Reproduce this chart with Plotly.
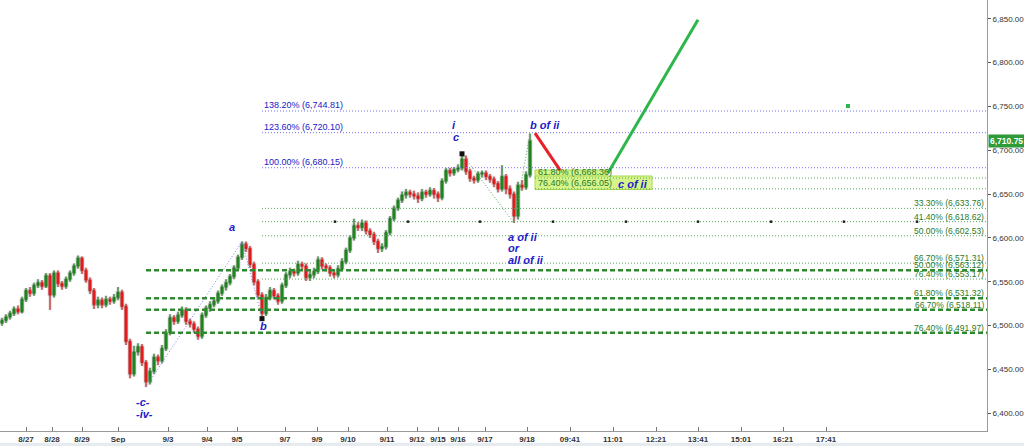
import plotly.graph_objects as go

# ---------------- data ----------------
first_open = 6503
closes = [6506, 6510, 6514, 6519, 6516, 6530, 6540, 6537, 6546, 6549,
          6545, 6557, 6535, 6560, 6548, 6545, 6553, 6560, 6568, 6577,
          6563, 6552, 6540, 6524, 6529, 6524, 6530, 6528, 6532, 6538,
          6522, 6482, 6445, 6470, 6476, 6458, 6436, 6448, 6464, 6460,
          6474, 6492, 6509, 6505, 6512, 6518, 6505, 6502, 6496, 6488,
          6512, 6520, 6524, 6528, 6537, 6544, 6549, 6556, 6566, 6578,
          6593, 6588, 6570, 6550, 6535, 6514, 6532, 6540, 6534, 6528,
          6546, 6558, 6562, 6560, 6570, 6568, 6555, 6558, 6562, 6575,
          6568, 6566, 6560, 6558, 6565, 6573, 6586, 6600, 6614, 6612,
          6617, 6608, 6604, 6596, 6588, 6590, 6606, 6622, 6634, 6643,
          6649, 6652, 6650, 6648, 6645, 6652, 6650, 6654, 6650, 6646,
          6665, 6677, 6674, 6678, 6680, 6690, 6676, 6668, 6666, 6673,
          6674, 6670, 6667, 6662, 6656, 6670, 6656, 6650, 6625, 6660,
          6658, 6672, 6710.75]
highs = [6509, 6513, 6517, 6522, 6523, 6533, 6543, 6544, 6549, 6553,
         6552, 6560, 6560, 6563, 6563, 6551, 6556, 6563, 6571, 6580,
         6579, 6566, 6555, 6543, 6533, 6532, 6534, 6533, 6536, 6544,
         6541, 6525, 6485, 6477, 6480, 6479, 6461, 6452, 6468, 6467,
         6478, 6496, 6513, 6512, 6516, 6522, 6521, 6508, 6505, 6499,
         6515, 6523, 6528, 6532, 6540, 6547, 6553, 6559, 6569, 6581,
         6596, 6596, 6591, 6573, 6553, 6538, 6536, 6544, 6543, 6537,
         6549, 6561, 6566, 6565, 6574, 6573, 6571, 6562, 6566, 6579,
         6578, 6571, 6569, 6563, 6569, 6577, 6589, 6603, 6622, 6618,
         6621, 6620, 6611, 6607, 6599, 6594, 6609, 6625, 6637, 6646,
         6653, 6656, 6655, 6654, 6652, 6656, 6655, 6658, 6657, 6653,
         6668, 6680, 6680, 6681, 6684, 6696, 6694, 6679, 6671, 6676,
         6677, 6677, 6673, 6670, 6665, 6683, 6673, 6660, 6653, 6664,
         6666, 6676, 6719]
lows = [6500, 6503, 6507, 6511, 6513, 6514, 6527, 6533, 6534, 6543,
        6541, 6543, 6518, 6532, 6544, 6541, 6542, 6550, 6557, 6565,
        6559, 6549, 6536, 6519, 6520, 6520, 6521, 6524, 6525, 6529,
        6518, 6478, 6440, 6442, 6466, 6454, 6430, 6433, 6445, 6455,
        6457, 6471, 6489, 6501, 6502, 6509, 6501, 6498, 6492, 6484,
        6485, 6509, 6516, 6521, 6525, 6534, 6540, 6546, 6553, 6563,
        6575, 6584, 6566, 6546, 6531, 6509, 6511, 6529, 6530, 6524,
        6525, 6543, 6554, 6556, 6557, 6564, 6551, 6551, 6554, 6559,
        6564, 6562, 6556, 6554, 6555, 6562, 6570, 6583, 6597, 6608,
        6608, 6604, 6600, 6592, 6583, 6584, 6587, 6603, 6619, 6631,
        6640, 6645, 6646, 6644, 6640, 6642, 6646, 6647, 6645, 6641,
        6643, 6662, 6670, 6671, 6675, 6677, 6672, 6664, 6662, 6663,
        6669, 6666, 6663, 6658, 6652, 6653, 6650, 6645, 6617, 6621,
        6654, 6655, 6669]
opens = [first_open] + closes[:-1]
bars = list(range(len(closes)))

tick_pos = [6, 12.5, 20, 29, 41.5, 51.25, 58.75, 70.75, 78.75, 86.5, 96.25,
            103.75, 109, 114, 120.75, 131.25, 142, 152.75, 163.5, 174,
            184.75, 195.25, 206]
tick_text = ["8/27", "8/28", "8/29", "Sep", "9/3", "9/4", "9/5", "9/7", "9/9",
             "9/10", "9/11", "9/12", "9/15", "9/16", "9/17", "9/18", "09:41",
             "11:01", "12:21", "13:41", "15:01", "16:21", "17:41"]

# Fibonacci levels
ext_pcts = ["138.20%", "123.60%", "100.00%"]
ext_vals = [6744.81, 6720.10, 6680.15]
tgt_pcts = ["61.80%", "76.40%"]
tgt_vals = [6668.36, 6656.05]
retr_dot_pcts = ["33.30%", "41.40%", "50.00%", "66.70%", "76.40%"]
retr_dot_vals = [6633.76, 6618.62, 6602.53, 6571.31, 6553.17]
retr_dash_pcts = ["50.00%", "61.80%", "66.70%", "76.40%"]
retr_dash_vals = [6563.12, 6531.32, 6518.11, 6491.97]

# wave pivots (bar index, price)
c_low = (36, 6430)
a_high = (60, 6596)
b_low = (65, 6509)
i_high = (115, 6696)
aii_low = (128, 6617)
bii_high = (132, 6719)

# projections
red_x = [133.25, 139.5]
red_y = [6719.6, 6677.4]
green_x = [151.5, 174]
green_y = [6674, 6849]
target_x = [211.5]
target_y = [6750.5]
cycle_x = [83.25, 101.5, 119.5, 137.75, 156, 174, 192.25, 210.5, 228.75]
last_price = 6710.75

X_END = 246.25
Y_RANGE = [6379.9, 6871.4]

BLUE = "#2020c8"
FIB_BLUE = "#7373ee"
FIB_GREEN = "#5aa85a"
DASH_GREEN = "#2f8a2f"
LBL_GREEN = "#2a7a2a"

fig = go.Figure()

def hline(x0, val, color, width, dash):
    fig.add_trace(go.Scatter(x=[x0, X_END], y=[val, val], mode="lines",
                             line=dict(color=color, width=width, dash=dash),
                             hoverinfo="skip", showlegend=False))

for v in ext_vals:
    hline(b_low[0], v, FIB_BLUE, 1, "1px,2px")
for v in tgt_vals:
    hline(133.25, v, FIB_GREEN, 1, "1px,2px")
for v in retr_dot_vals:
    hline(b_low[0], v, FIB_GREEN, 1, "1px,2px")
for v in retr_dash_vals:
    hline(c_low[0], v, DASH_GREEN, 2.5, "5px,3px")

# wave connectors
fig.add_trace(go.Scatter(x=[c_low[0], a_high[0], b_low[0]],
                         y=[c_low[1], a_high[1], b_low[1]], mode="lines",
                         line=dict(color="#8080f0", width=1, dash="1px,2px"),
                         hoverinfo="skip", showlegend=False))
fig.add_trace(go.Scatter(x=[i_high[0], aii_low[0], bii_high[0]],
                         y=[i_high[1], aii_low[1], bii_high[1]], mode="lines",
                         line=dict(color=FIB_GREEN, width=1, dash="1px,2px"),
                         hoverinfo="skip", showlegend=False))

# candle halo + candles
halo = "rgba(110,110,110,0.45)"
fig.add_trace(go.Candlestick(x=bars, open=opens, high=highs, low=lows, close=closes,
                             increasing=dict(line=dict(color=halo, width=2.6), fillcolor=halo),
                             decreasing=dict(line=dict(color=halo, width=2.6), fillcolor=halo),
                             whiskerwidth=0, hoverinfo="skip", showlegend=False))
fig.add_trace(go.Candlestick(x=bars, open=opens, high=highs, low=lows, close=closes,
                             increasing=dict(line=dict(color="#1b7f1b", width=1),
                                             fillcolor="#1f8f1f"),
                             decreasing=dict(line=dict(color="#e01818", width=1),
                                             fillcolor="#ee1c1c"),
                             whiskerwidth=0, hoverinfo="skip", showlegend=False))

# pivot markers
fig.add_trace(go.Scatter(x=[b_low[0], i_high[0]], y=[b_low[1] - 1, i_high[1]],
                         mode="markers", marker=dict(symbol="square", size=5, color="#111111"),
                         hoverinfo="skip", showlegend=False))
fig.add_trace(go.Scatter(x=cycle_x, y=[retr_dot_vals[1]] * len(cycle_x), mode="markers",
                         marker=dict(symbol="square", size=2.5, color="#222222"),
                         hoverinfo="skip", showlegend=False))

# projections
fig.add_trace(go.Scatter(x=red_x, y=red_y, mode="lines",
                         line=dict(color="#e8202a", width=3),
                         hoverinfo="skip", showlegend=False))
fig.add_trace(go.Scatter(x=green_x, y=green_y, mode="lines",
                         line=dict(color="#2db64a", width=3),
                         hoverinfo="skip", showlegend=False))
fig.add_trace(go.Scatter(x=target_x, y=target_y, mode="markers",
                         marker=dict(size=4, color="#2db64a", symbol="square"),
                         hoverinfo="skip", showlegend=False))

shapes = [
    dict(type="rect", xref="x", yref="y", x0=133.25, x1=151.25, y0=6668.8, y1=6677.5,
         fillcolor="#d6f48a", line=dict(color="#a8d850", width=1), layer="below"),
    dict(type="rect", xref="x", yref="y", x0=133.25, x1=162.5, y0=6655.3, y1=6670.7,
         fillcolor="#d6f48a", line=dict(color="#a8d850", width=1), layer="below"),
    dict(type="rect", xref="paper", yref="paper", x0=0, x1=1.04, y0=-0.036, y1=-0.027,
         fillcolor="#e6ebf0", line=dict(width=0)),
]

ann = []
for p, v in zip(ext_pcts, ext_vals):
    ann.append(dict(x=b_low[0], y=v, text=f"{p} ({v:,.2f})", xanchor="left", yanchor="bottom",
                    showarrow=False, yshift=-1, font=dict(family="Arial", size=9, color=BLUE)))
for p, v in zip(tgt_pcts, tgt_vals):
    ann.append(dict(x=133.5, y=v, text=f"{p} ({v:,.2f})", xanchor="left", yanchor="bottom",
                    showarrow=False, yshift=-1, font=dict(family="Arial", size=9, color=LBL_GREEN)))
narrow = "Liberation Sans Narrow, Arial Narrow, Liberation Sans, sans-serif"
for p, v in zip(retr_dot_pcts + retr_dash_pcts, retr_dot_vals + retr_dash_vals):
    ann.append(dict(x=X_END, y=v, text=f"{p} ({v:,.2f})", xanchor="right", yanchor="bottom",
                    showarrow=False, yshift=-2, xshift=-1,
                    font=dict(family=narrow, size=8.5, color=LBL_GREEN)))

wave_font = dict(family="Arial", size=11, color=BLUE, style="italic", weight="bold")
waves = [("a", 57.5, 6612.5, "center"), ("b", 65.25, 6499.5, "center"),
         ("-c-", 35.25, 6413, "center"), ("-iv-", 35.5, 6399, "center"),
         ("i", 113.1, 6728.9, "center"), ("c", 113.5, 6715, "center"),
         ("b of ii", 131.5, 6728.9, "left"),
         ("a of ii", 126, 6601.5, "left"), ("or", 126, 6588.5, "left"),
         ("all of ii", 126, 6575, "left"), ("c of ii", 153.5, 6661.6, "left")]
for t, x, y, xa in waves:
    ann.append(dict(x=x, y=y, text=t, xanchor=xa, yanchor="middle", showarrow=False,
                    font=wave_font))

ann.append(dict(xref="paper", x=1, y=last_price, text=f"{last_price:,.2f}", xanchor="left",
                yanchor="middle", showarrow=False, bgcolor="#2f9a3a", borderpad=1, xshift=1,
                font=dict(family="Arial", size=8.5, color="white", weight="bold")))

fig.update_layout(
    width=1024, height=446,
    margin=dict(l=0, r=37, t=0, b=15),
    paper_bgcolor="white", plot_bgcolor="white",
    showlegend=False, hovermode=False,
    shapes=shapes, annotations=ann,
    xaxis=dict(range=[-0.5, X_END], tickvals=tick_pos, ticktext=tick_text,
               showgrid=False, zeroline=False, showline=True, linecolor="#9a9a9a",
               ticks="inside", ticklen=4, tickcolor="#777",
               tickfont=dict(family="Arial", size=8, color="#333", weight="bold"),
               rangeslider=dict(visible=False), fixedrange=True),
    yaxis=dict(range=Y_RANGE, side="right", dtick=50, tickformat=",.2f",
               showgrid=False, zeroline=False, showline=True, linecolor="#9a9a9a",
               ticks="outside", ticklen=3, tickcolor="#555",
               tickfont=dict(family="Arial", size=8, color="#333"), fixedrange=True),
)

fig.write_html("out.html", config={"displayModeBar": False},
               post_script="document.body.style.margin='0';document.body.style.overflow='hidden';")
